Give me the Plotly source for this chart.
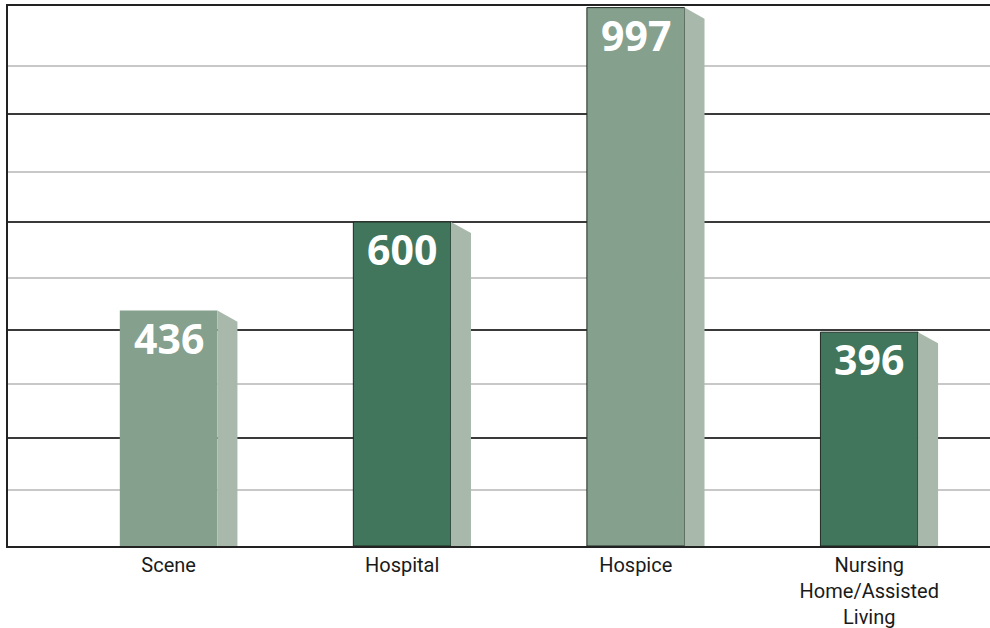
import plotly.graph_objects as go

# ---- data ----
categories = ["Scene", "Hospital", "Hospice", "Nursing<br>Home/Assisted<br>Living"]
values = [436, 600, 997, 396]
value_labels = ["436", "600", "997", "396"]
front_colors = ["#86A08E", "#41765C", "#86A08E", "#41765C"]
outline_widths = [0, 1, 1, 1]
y_max = 1000
major_step = 200
minor_grid_start = 104
minor_grid_step = 196

# ---- styling ----
BAR_W = 0.418
SIDE_W = 0.0857
SLANT = 20.5
SIDE_COLOR = "#A8B9AC"

xpos = list(range(len(categories)))

fig = go.Figure()
fig.add_trace(go.Bar(
    x=xpos, y=values, width=BAR_W,
    marker=dict(color=front_colors, line=dict(color="#1e2a22", width=outline_widths)),
    hoverinfo="skip",
))

for xi, v in zip(xpos, values):
    r = xi + BAR_W / 2
    fig.add_trace(go.Scatter(
        x=[r, r + SIDE_W, r + SIDE_W, r, r],
        y=[v, v - SLANT, 0, 0, v],
        fill="toself", fillcolor=SIDE_COLOR,
        line=dict(width=0), mode="lines", hoverinfo="skip",
    ))

for xi, v, t in zip(xpos, values, value_labels):
    fig.add_annotation(
        x=xi, y=v, text=t, showarrow=False, yanchor="middle", yshift=-27,
        font=dict(family="Open Sans", size=41, color="white", weight=700),
    )

fig.update_layout(
    width=990, height=628,
    margin=dict(l=8, r=0, t=6, b=82),
    showlegend=False,
    plot_bgcolor="white", paper_bgcolor="white",
    xaxis=dict(
        range=[-0.6877, 3.517], tickvals=xpos, ticktext=categories,
        showgrid=False, zeroline=False, showline=True, mirror=True,
        linecolor="#222222", linewidth=1.5, ticks="",
        tickfont=dict(family="Roboto", size=20, color="#1a1a1a"),
    ),
    yaxis=dict(
        range=[0, y_max], tick0=0, dtick=major_step,
        showgrid=True, gridcolor="#3a3a3a", gridwidth=1.5,
        showticklabels=False, zeroline=False,
        showline=True, linecolor="#222222", linewidth=1.5,
        minor=dict(tick0=minor_grid_start, dtick=minor_grid_step, showgrid=True,
                   gridcolor="#c8c8c8", gridwidth=1.5),
    ),
)

fig.write_html(
    "out.html",
    config={"displayModeBar": False},
    post_script="document.body.style.margin='0';document.body.style.overflow='hidden';",
)
